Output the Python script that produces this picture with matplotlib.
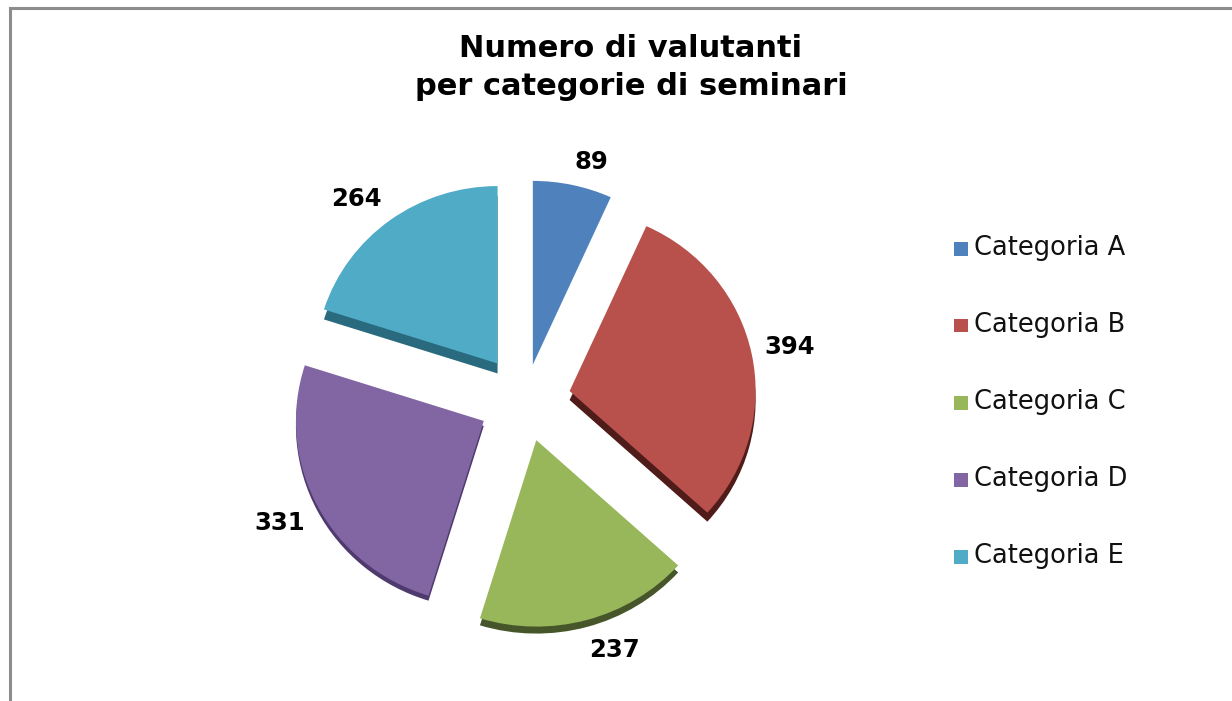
import matplotlib
matplotlib.use("Agg")
import matplotlib.pyplot as plt
from matplotlib.patches import Rectangle

W, H = 1232, 701

categories = ["Categoria A", "Categoria B", "Categoria C", "Categoria D", "Categoria E"]
values = [89, 394, 237, 331, 264]
colors = ["#4f81bd", "#b8504c", "#98b65a", "#8265a3", "#4fabc6"]
dark = ["#2d4f78", "#4f1c1a", "#46562a", "#4f3a6e", "#2a6a7e"]
title = "Numero di valutanti\nper categorie di seminari"
label_pos = [(591, 162), (790, 347), (614, 650), (280, 523), (356, 199)]
legend_y = [248, 325, 402, 479, 556]

# how far each slice is pulled out, its size in the fake perspective, and how thick its edge shows
explode = [0.20, 0.245, 0.23, 0.25, 0.25]
radii = [1.015, 1.0, 1.03, 1.01, 0.98]
depth = [0, 9, 7, 5, 10]

fig = plt.figure(figsize=(W / 100, H / 100), dpi=100)
fig.patch.set_facecolor("white")

# outer frame of the chart, runs off the right and bottom of the picture
fig.add_artist(Rectangle((10 / W, -0.05), 1.1, 1.05 - 8 / H, transform=fig.transFigure,
                         fill=False, ec="#8c8c8c", lw=2.2))

cx, cy, rx, ry = 525, 400, 186, 181
span = 1.5

ax = fig.add_axes([(cx - span * rx) / W, 1 - (cy + span * ry) / H,
                   2 * span * rx / W, 2 * span * ry / H])
ax.patch.set_alpha(0)

# the dark copy underneath gives the 3d edge
under, _ = ax.pie(values, colors=dark, startangle=90, counterclock=False, explode=explode,
                  radius=1, wedgeprops={"lw": 0})
for w, d, r in zip(under, depth, radii):
    x, y = w.center
    w.set_center((x, y - d / ry))
    w.set_radius(r)
    w.set_visible(d > 0)
top, _ = ax.pie(values, colors=colors, startangle=90, counterclock=False, explode=explode,
                radius=1, wedgeprops={"lw": 0})
for w, r in zip(top, radii):
    w.set_radius(r)
ax.set_aspect("auto")
ax.set_xlim(-span, span)
ax.set_ylim(-span, span)

fig.text(631 / W, 1 - 67.5 / H, title, ha="center", va="center", fontsize=22,
         fontweight="bold", color="black", linespacing=1.38)

for v, (x, y) in zip(values, label_pos):
    fig.text(x / W, 1 - y / H, str(v), ha="center", va="center", fontsize=17.5,
             fontweight="bold", color="black")

for name, c, y in zip(categories, colors, legend_y):
    fig.add_artist(Rectangle((954 / W, 1 - (y + 7.5) / H), 14 / W, 14 / H,
                             transform=fig.transFigure, fc=c, ec="none"))
    fig.text(974 / W, 1 - y / H, name, ha="left", va="center", fontsize=18.5, color="#111111")

fig.savefig("out.png", dpi=100)
